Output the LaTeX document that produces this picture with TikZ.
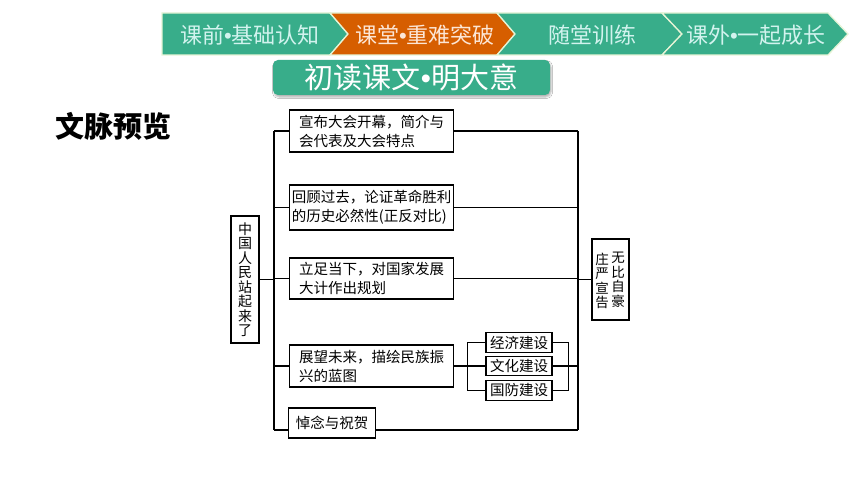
\documentclass[tikz,border=0pt]{standalone}
\usepackage{fontspec}
\newfontfamily\cjk{Noto Sans CJK SC}
\newfontfamily\latin{Liberation Sans}
\newcommand\bul{{\latin •}}
\usetikzlibrary{shadows.blur}
\definecolor{bargreen}{HTML}{38AD8A}
\definecolor{barorange}{HTML}{D65E00}
\definecolor{barline}{HTML}{E6F4D6}
\definecolor{bartext}{HTML}{D2F3EE}
\definecolor{orangetext}{HTML}{FCE6D6}
\begin{document}
\begin{tikzpicture}[x=1pt, y=-1pt, line width=1.3pt,
    box/.style={draw, align=left, anchor=west, inner xsep=2pt, inner ysep=1pt,
      minimum width=164pt, font=\cjk\fontsize{14.5}{19}\selectfont},
    subbox/.style={draw, inner sep=1pt, minimum width=66pt, minimum height=19.5pt,
      font=\cjk\fontsize{14.5}{14.5}\selectfont},
    vtext/.style={align=center, inner sep=0pt, font=\cjk\fontsize{14}{14.5}\selectfont},
    tab/.style={text=bartext, font=\cjk\fontsize{22}{22}\selectfont}]
  \fill[white] (0,0) rectangle (860,484);
  \useasboundingbox (0,0) rectangle (860,484);
  % header bar
  \filldraw[fill=bargreen, draw=barline] (162,13) -- (330,13) -- (348,34) -- (330,55) -- (162,55) -- cycle;
  \filldraw[fill=barorange, draw=barline] (330,13) -- (497,13) -- (515,34) -- (497,55) -- (330,55) -- (348,34) -- cycle;
  \filldraw[fill=bargreen, draw=barline] (497,13) -- (662,13) -- (682,34) -- (662,55) -- (497,55) -- (515,34) -- cycle;
  \filldraw[fill=bargreen, draw=barline] (662,13) -- (828,13) -- (848,34) -- (828,55) -- (662,55) -- (682,34) -- cycle;
  \node[tab] (t1) at (250,35) {课前\bul 基础认知};
  \node[tab, text=orangetext] (t2) at (425,35) {课堂\bul 重难突破};
  \node[tab] (t3) at (592,35) {随堂训练};
  \node[tab] (t4) at (756,35) {课外\bul 一起成长};
  \node[fill=bargreen, rounded corners=5pt, minimum width=277pt, minimum height=35pt, inner sep=0pt,
    text=white, font=\cjk\fontsize{29}{29}\selectfont,
    blur shadow={shadow xshift=1pt, shadow yshift=-2pt, shadow opacity=30}] (title) at (411.5,77.5) {初读课文\bul 明大意};
  \node[font=\cjk\bfseries\fontsize{29}{29}\selectfont] (head) at (113,126) {文脉预览};
  % boxes
  \node[box, minimum height=42pt] (b1) at (289,131) {宣布大会开幕，简介与\\会代表及大会特点};
  \node[box, minimum height=45pt] (b2) at (289,207.5) {回顾过去，论证革命胜利\\的历史必然性(正反对比)};
  \node[box, minimum height=41pt] (b3) at (289,278.5) {立足当下，对国家发展\\大计作出规划};
  \node[box, minimum height=42pt] (b4) at (289,366) {展望未来，描绘民族振\\兴的蓝图};
  \node[box, minimum height=30pt, minimum width=87pt] (b5) at (288,423) {悼念与祝贺};
  \node[subbox] (s1) at (519,342.5) {经济建设};
  \node[subbox] (s2) at (519,366) {文化建设};
  \node[subbox] (s3) at (519,390.5) {国防建设};
  \node[draw, vtext, minimum width=28pt, minimum height=127pt] (zh) at (245,279.5) {中\\国\\人\\民\\站\\起\\来\\了};
  \node[draw, minimum width=37pt, minimum height=81pt] (rb) at (610.5,279.5) {};
  \node[vtext, font=\cjk\fontsize{13.5}{14.5}\selectfont] (rb1) at (602,281) {庄\\严\\宣\\告};
  \node[vtext, font=\cjk\fontsize{13.5}{14.5}\selectfont] (rb2) at (618,280) {无\\比\\自\\豪};
  % connectors
  \coordinate (lt) at (274,131);
  \coordinate (lb) at (274,430);
  \coordinate (rt) at (578,131);
  \coordinate (rbt) at (578,430);
  \draw (lt) -- (lb);
  \draw (rt) -- (rbt);
  \foreach \n in {b1,b2,b3,b4}
    \draw (\n.west -| lt) -- (\n.west);
  \foreach \n in {b1,b2,b3}
    \draw (\n.east) -- (\n.east -| rt);
  \draw (lb) -- (lb -| b5.west);
  \draw (b5.east |- lb) -- (rbt);
  \draw (zh.east) -- (zh.east -| lt);
  \draw (rb.west -| rt) -- (rb.west);
  \draw (b4.east) -- (s2.west);
  \draw (s1.west) -- ++(-18,0) |- (s3.west);
  \draw (s1.east) -- ++(16,0) |- (s3.east);
  \draw (s2.east) -- (s2.east -| rt);
\end{tikzpicture}
\end{document}
